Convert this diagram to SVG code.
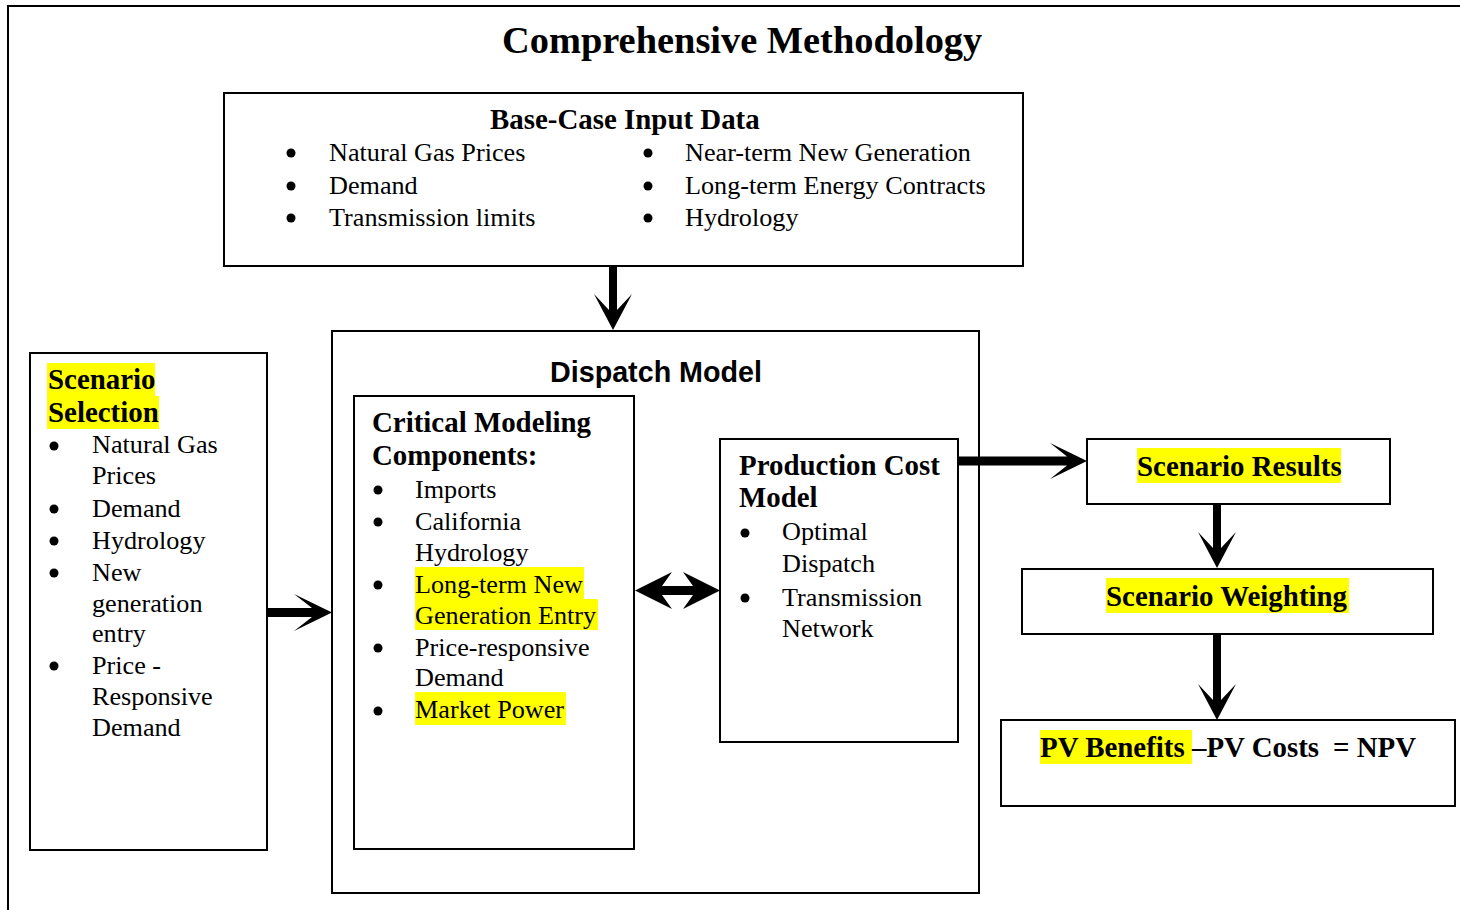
<svg xmlns="http://www.w3.org/2000/svg" width="1460" height="910" viewBox="0 0 1460 910">
  <style>
    .box { fill: #fff; stroke: #000; stroke-width: 2; }
    .frame { fill: none; stroke: #000; stroke-width: 2; }
    .hl { fill: #ffff00; }
    .title { font-family: "Liberation Serif", "Times New Roman", serif; font-weight: bold; font-size: 38.4px; fill: #000; }
    .head { font-family: "Liberation Serif", "Times New Roman", serif; font-weight: bold; font-size: 28.9px; fill: #000; }
    .sans { font-family: "Liberation Sans", Arial, sans-serif; font-weight: bold; font-size: 28.7px; fill: #000; }
    .body { font-family: "Liberation Serif", "Times New Roman", serif; font-size: 26.2px; fill: #000; }
    .dot { fill: #000; }
    .arrow { fill: #000; stroke: none; }
  </style>

  <rect width="1460" height="910" fill="#fff"/>
  <!-- outer frame (open on right and bottom) -->
  <path class="frame" d="M8,910 V6 H1460"/>
  <text class="title" x="502" y="53">Comprehensive Methodology</text>

  <g id="base-case">
    <rect class="box" x="224" y="93" width="799" height="173"/>
    <text class="head" x="490" y="129">Base-Case Input Data</text>
    <circle class="dot" cx="291" cy="153" r="4.5"/>
    <circle class="dot" cx="291" cy="186" r="4.5"/>
    <circle class="dot" cx="291" cy="218" r="4.5"/>
    <text class="body" x="329" y="161">Natural Gas Prices</text>
    <text class="body" x="329" y="194">Demand</text>
    <text class="body" x="329" y="226">Transmission limits</text>
    <circle class="dot" cx="648" cy="153" r="4.5"/>
    <circle class="dot" cx="648" cy="186" r="4.5"/>
    <circle class="dot" cx="648" cy="218" r="4.5"/>
    <text class="body" x="685" y="161">Near-term New Generation</text>
    <text class="body" x="685" y="194">Long-term Energy Contracts</text>
    <text class="body" x="685" y="226">Hydrology</text>
  </g>

  <g id="scenario-selection">
    <rect class="box" x="30" y="353" width="237" height="497"/>
    <rect class="hl" x="47" y="363" width="108" height="33"/>
    <rect class="hl" x="47" y="396" width="112" height="33"/>
    <text class="head" x="48" y="389">Scenario</text>
    <text class="head" x="48" y="422">Selection</text>
    <circle class="dot" cx="54" cy="446" r="4.5"/>
    <circle class="dot" cx="54" cy="509" r="4.5"/>
    <circle class="dot" cx="54" cy="541" r="4.5"/>
    <circle class="dot" cx="54" cy="573" r="4.5"/>
    <circle class="dot" cx="54" cy="666" r="4.5"/>
    <text class="body" x="92" y="453">Natural Gas</text>
    <text class="body" x="92" y="484">Prices</text>
    <text class="body" x="92" y="517">Demand</text>
    <text class="body" x="92" y="549">Hydrology</text>
    <text class="body" x="92" y="581">New</text>
    <text class="body" x="92" y="612">generation</text>
    <text class="body" x="92" y="642">entry</text>
    <text class="body" x="92" y="674">Price -</text>
    <text class="body" x="92" y="705">Responsive</text>
    <text class="body" x="92" y="736">Demand</text>
  </g>

  <g id="dispatch-model">
    <rect class="box" x="332" y="331" width="647" height="562"/>
    <text class="sans" x="550" y="382">Dispatch Model</text>
  </g>

  <g id="critical-components">
    <rect class="box" x="354" y="396" width="280" height="453"/>
    <text class="head" x="372" y="432">Critical Modeling</text>
    <text class="head" x="372" y="465">Components:</text>
    <rect class="hl" x="415" y="567" width="169" height="33"/>
    <rect class="hl" x="415" y="599" width="183" height="31"/>
    <rect class="hl" x="415" y="692" width="151" height="33"/>
    <circle class="dot" cx="378" cy="490" r="4.5"/>
    <circle class="dot" cx="378" cy="522" r="4.5"/>
    <circle class="dot" cx="378" cy="585" r="4.5"/>
    <circle class="dot" cx="378" cy="648" r="4.5"/>
    <circle class="dot" cx="378" cy="711" r="4.5"/>
    <text class="body" x="415" y="498">Imports</text>
    <text class="body" x="415" y="530">California</text>
    <text class="body" x="415" y="561">Hydrology</text>
    <text class="body" x="415" y="593">Long-term New</text>
    <text class="body" x="415" y="624">Generation Entry</text>
    <text class="body" x="415" y="656">Price-responsive</text>
    <text class="body" x="415" y="686">Demand</text>
    <text class="body" x="415" y="718">Market Power</text>
  </g>

  <g id="production-cost">
    <rect class="box" x="720" y="439" width="238" height="303"/>
    <text class="head" x="739" y="475">Production Cost</text>
    <text class="head" x="739" y="507">Model</text>
    <circle class="dot" cx="745" cy="533" r="4.5"/>
    <circle class="dot" cx="745" cy="598" r="4.5"/>
    <text class="body" x="782" y="540">Optimal</text>
    <text class="body" x="782" y="572">Dispatch</text>
    <text class="body" x="782" y="606">Transmission</text>
    <text class="body" x="782" y="637">Network</text>
  </g>

  <g id="scenario-results">
    <rect class="box" x="1087" y="439" width="303" height="65"/>
    <rect class="hl" x="1137" y="448" width="204" height="35"/>
    <text class="head" x="1137" y="476">Scenario Results</text>
  </g>

  <g id="scenario-weighting">
    <rect class="box" x="1022" y="569" width="411" height="65"/>
    <rect class="hl" x="1106" y="578" width="243" height="35"/>
    <text class="head" x="1106" y="606">Scenario Weighting</text>
  </g>

  <g id="npv">
    <rect class="box" x="1001" y="720" width="454" height="86"/>
    <rect class="hl" x="1040" y="730" width="152" height="34"/>
    <text class="head" x="1040" y="757">PV Benefits</text>
    <text class="head" x="1192" y="757">–PV Costs</text>
    <text class="head" x="1333" y="757">= NPV</text>
  </g>

  <g id="connectors">
    <!-- base-case to dispatch model -->
    <path class="arrow" d="M609,266 V310 L594,294 L613,330 L632,294 L617,310 V266 Z"/>
    <!-- scenario selection to dispatch model -->
    <path class="arrow" d="M268,608 H312 L294,594 L332,612.5 L294,631 L312,617 H268 Z"/>
    <!-- critical components to/from production cost -->
    <path class="arrow" d="M635,590.5 L672,572 L662,586 H693 L683,572 L720,590.5 L683,609 L693,595 H662 L672,609 Z"/>
    <!-- production cost to scenario results -->
    <path class="arrow" d="M958,456.5 H1067 L1050,443 L1087,461 L1050,479 L1067,465.5 H958 Z"/>
    <!-- scenario results to weighting -->
    <path class="arrow" d="M1213,504 V548 L1198,532 L1217,568 L1236,532 L1221,548 V504 Z"/>
    <!-- weighting to NPV -->
    <path class="arrow" d="M1213,634 V700 L1198,684 L1217,720 L1236,684 L1221,700 V634 Z"/>
  </g>
</svg>
